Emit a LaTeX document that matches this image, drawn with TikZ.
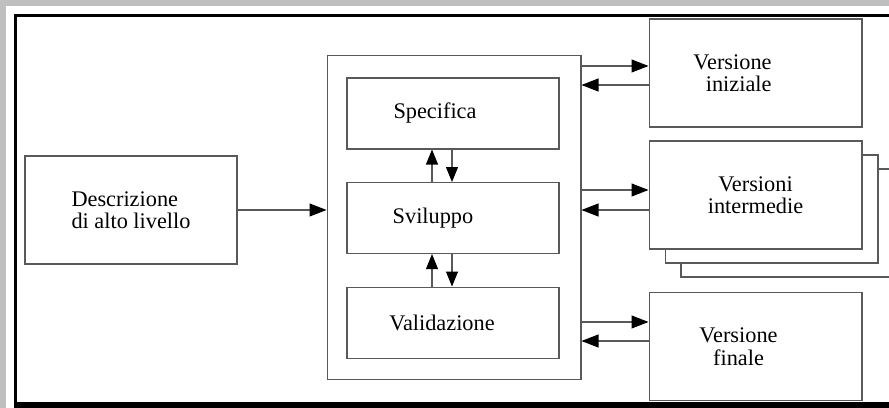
\documentclass[tikz,border=0pt]{standalone}
\usepackage{fontspec}
\setmainfont{Liberation Serif}
\usetikzlibrary{arrows.meta,positioning,shadows}

\begin{document}
\begin{tikzpicture}[x=0.02cm, y=-0.02cm,
      box/.style={draw=black!65, line width=0.6pt, fill=white, align=center,
                  font=\fontsize{12.7}{12.8}\selectfont},
      fase/.style={box, minimum width=4.24cm, minimum height=1.42cm},
      ver/.style={box, minimum width=4.26cm, minimum height=2.16cm},
      arr/.style={-{Triangle[length=0.34cm, width=0.26cm, color=black]}, draw=black!65, line width=0.6pt},
      varr/.style={arr, -{Triangle[length=0.3cm, width=0.24cm, color=black]}}
    ]
      % sfondo e cornice
      \useasboundingbox (0,0) rectangle (889,408);
      \clip (0,0) rectangle (889,408);
      \fill[black!25] (0,0) rectangle (889,408);
      \fill[white] (6,6) rectangle (889,408);
      \draw[line width=0.06cm] (15.5,15.5) rectangle (920,404);
      \fill (14,402) rectangle (889,408);

      \node[box, align=left, minimum width=4.24cm, minimum height=2.16cm] (desc) at (131,210)
        {Descrizione\\di alto livello};
      \node[box, minimum width=5.08cm, minimum height=6.5cm] (proc) at (454,217.5) {};
      \node[fase] (spec) at (453,113.5) {Specifica\hspace*{0.72cm}};
      \node[fase, below=0.65cm of spec] (svil) {Sviluppo\hspace*{0.8cm}};
      \node[fase, below=0.65cm of svil] (valid) {Validazione\hspace*{0.44cm}};

      \node[ver, align=right] (iniz) at (755.5,73) {Versione\hspace*{0.92cm}\\iniziale\hspace*{0.92cm}};
      \node[ver, copy shadow={shadow xshift=0.64cm, shadow yshift=-0.56cm, draw=black!65},
            copy shadow={shadow xshift=0.32cm, shadow yshift=-0.28cm, draw=black!65}] (inter) at (755.5,195)
        {Versioni\\intermedie};
      \node[ver] (fin) at (755.5,346.5) {Versione\hspace*{0.68cm}\\finale\hspace*{0.68cm}};

      \draw[arr] (desc.east) -- (desc.east -| proc.west);

      \draw[varr] (svil.north -| 432,0) -- (spec.south -| 432,0);
      \draw[varr] (spec.south -| 452,0) -- (svil.north -| 452,0);
      \draw[varr] (valid.north -| 432,0) -- (svil.south -| 432,0);
      \draw[varr] (svil.south -| 452,0) -- (valid.north -| 452,0);

      \draw[arr] (proc.east |- 0,66) -- (iniz.west |- 0,66);
      \draw[arr] (iniz.west |- 0,85) -- (proc.east |- 0,85);
      \draw[arr] (proc.east |- 0,190) -- (inter.west |- 0,190);
      \draw[arr] (inter.west |- 0,210) -- (proc.east |- 0,210);
      \draw[arr] (proc.east |- 0,322) -- (fin.west |- 0,322);
      \draw[arr] (fin.west |- 0,341) -- (proc.east |- 0,341);
\end{tikzpicture}
\end{document}
